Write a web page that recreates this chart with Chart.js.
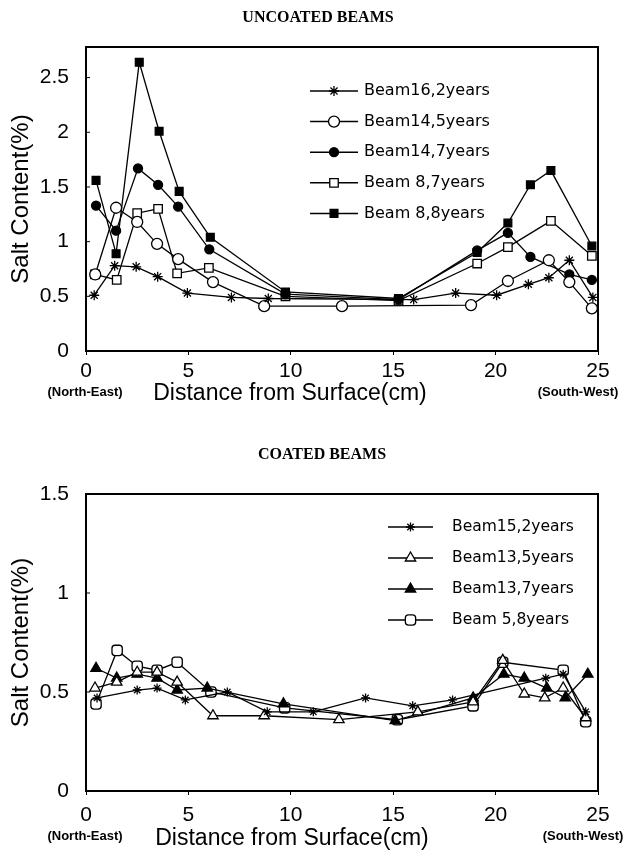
<!DOCTYPE html>
<html><head><meta charset="utf-8">
<script src="https://cdn.jsdelivr.net/npm/chart.js@4/dist/chart.umd.min.js"></script>
<style>
html,body{margin:0;padding:0;background:#fff;}
canvas{position:absolute;left:0;}
#c1{top:0;}
#c2{top:430px;}
</style></head><body>
<canvas id="c1" width="631" height="430"></canvas>
<canvas id="c2" width="631" height="427"></canvas>
<script>
// ---------- Tick labels ----------
const xTicks = [0, 5, 10, 15, 20, 25];
const yTicksTop = [0, 0.5, 1, 1.5, 2, 2.5];
const yTicksBottom = [0, 0.5, 1, 1.5];

// ---------- UNCOATED BEAMS ----------
const beam16_2_x = [0.4, 1.4, 2.45, 3.5, 4.95, 7.1, 8.9, 16.0, 18.05, 20.05, 21.6, 22.6, 23.6, 24.75];
const beam16_2_y = [0.51, 0.78, 0.77, 0.68, 0.53, 0.49, 0.48, 0.47, 0.53, 0.51, 0.61, 0.67, 0.83, 0.49];
const beam14_5_x = [0.45, 1.47, 2.5, 3.47, 4.5, 6.2, 8.7, 12.5, 18.8, 20.6, 22.6, 23.6, 24.7];
const beam14_5_y = [0.70, 1.31, 1.18, 0.98, 0.84, 0.63, 0.41, 0.41, 0.42, 0.64, 0.83, 0.63, 0.39];
const beam14_7_x = [0.49, 1.47, 2.54, 3.52, 4.5, 6.02, 9.74, 15.26, 19.1, 20.6, 21.7, 23.6, 24.7];
const beam14_7_y = [1.33, 1.10, 1.67, 1.52, 1.32, 0.93, 0.52, 0.47, 0.92, 1.08, 0.86, 0.70, 0.65];
const beam8_7_x = [0.44, 1.5, 2.5, 3.52, 4.45, 6.0, 9.74, 15.26, 19.1, 20.6, 22.7, 24.7];
const beam8_7_y = [0.70, 0.65, 1.26, 1.30, 0.71, 0.76, 0.50, 0.46, 0.80, 0.95, 1.19, 0.87];
const beam8_8_x = [0.49, 1.47, 2.6, 3.57, 4.55, 6.07, 9.74, 15.26, 19.1, 20.6, 21.7, 22.7, 24.7];
const beam8_8_y = [1.56, 0.89, 2.64, 2.01, 1.46, 1.04, 0.54, 0.48, 0.90, 1.17, 1.52, 1.65, 0.96];

// ---------- COATED BEAMS ----------
const beam15_2_x = [0.54, 2.5, 3.47, 4.85, 6.9, 8.85, 11.1, 13.65, 15.95, 17.9, 22.45, 23.3, 24.4];
const beam15_2_y = [0.47, 0.51, 0.52, 0.46, 0.50, 0.40, 0.40, 0.47, 0.43, 0.46, 0.57, 0.59, 0.40];
const beam13_5_x = [0.44, 1.5, 2.5, 3.47, 4.45, 6.2, 8.7, 12.35, 16.2, 18.9, 20.35, 21.4, 22.4, 23.3, 24.4];
const beam13_5_y = [0.52, 0.55, 0.60, 0.60, 0.55, 0.38, 0.38, 0.36, 0.40, 0.45, 0.66, 0.49, 0.47, 0.52, 0.37];
const beam13_7_x = [0.49, 1.5, 2.5, 3.47, 4.45, 5.92, 9.64, 15.1, 18.9, 20.4, 21.4, 22.5, 23.4, 24.5];
const beam13_7_y = [0.62, 0.57, 0.59, 0.57, 0.51, 0.52, 0.44, 0.355, 0.47, 0.59, 0.57, 0.52, 0.47, 0.59];
const beam5_8_x = [0.49, 1.52, 2.5, 3.47, 4.45, 6.1, 9.7, 15.2, 18.9, 20.35, 23.3, 24.4];
const beam5_8_y = [0.44, 0.71, 0.63, 0.61, 0.65, 0.50, 0.42, 0.36, 0.43, 0.65, 0.61, 0.35];

function pts(xs, ys) { return xs.map((x, i) => ({x: x, y: ys[i]})); }

function series(label, xs, ys, style, filled, radius) {
  return {
    label: label, data: pts(xs, ys),
    borderColor: '#000', borderWidth: 1.3, tension: 0, fill: false,
    pointStyle: style, pointRadius: radius, pointHoverRadius: radius,
    pointBackgroundColor: filled ? '#000' : '#fff',
    pointBorderColor: '#000', pointBorderWidth: 1.3
  };
}

const deco = {
  id: 'deco',
  afterDraw(chart, args, o) {
    const ctx = chart.ctx, a = chart.chartArea;
    ctx.save();
    ctx.strokeStyle = '#000';
    ctx.lineWidth = 2;
    ctx.strokeRect(a.left, a.top, a.right - a.left, a.bottom - a.top);
    const ys = chart.scales.y;
    ctx.lineWidth = 1;
    ys.ticks.forEach(t => {
      const py = ys.getPixelForValue(t.value);
      ctx.beginPath(); ctx.moveTo(a.left, py); ctx.lineTo(a.left + 4, py); ctx.stroke();
    });
    ctx.fillStyle = '#000';
    ctx.textAlign = 'center'; ctx.textBaseline = 'middle';
    ctx.font = 'bold 16px "Liberation Serif"';
    ctx.fillText(o.title, o.titleX, o.titleY);
    ctx.font = '23px "Liberation Sans"';
    ctx.fillText('Distance from Surface(cm)', o.xtX, o.xtY);
    ctx.font = 'bold 13px "Liberation Sans"';
    ctx.fillText('(North-East)', o.neX, o.noteY);
    ctx.fillText('(South-West)', o.swX, o.noteY);
    // legend
    chart.data.datasets.forEach((ds, i) => {
      const y = o.legY + i * o.legDy;
      ctx.strokeStyle = '#000'; ctx.lineWidth = 1.5;
      ctx.beginPath(); ctx.moveTo(o.legX1, y); ctx.lineTo(o.legX2, y); ctx.stroke();
      ctx.fillStyle = ds.pointBackgroundColor; ctx.lineWidth = ds.pointBorderWidth;
      const cx = (o.legX1 + o.legX2) / 2;
      if (Chart.helpers && Chart.helpers.drawPoint) {
        Chart.helpers.drawPoint(ctx, {pointStyle: ds.pointStyle, rotation: 0, borderWidth: ds.pointBorderWidth, radius: ds.pointRadius}, cx, y);
      } else {
        ctx.beginPath(); ctx.arc(cx, y, ds.pointRadius, 0, Math.PI * 2); ctx.fill(); ctx.stroke();
      }
      ctx.fillStyle = '#000';
      ctx.font = o.legFont;
      ctx.textAlign = 'left'; ctx.textBaseline = 'middle';
      ctx.fillText(ds.label, o.legTextX, y);
    });
    ctx.restore();
  }
};

function makeOptions(p) {
  const tickFont = {family: 'Liberation Sans', size: 21};
  const titleFont = {family: 'Liberation Sans', size: 24};
  return {
    responsive: false, animation: false,
    layout: {padding: {top: p.top, left: 0, right: 33, bottom: 0}},
    plugins: {legend: {display: false}, tooltip: {enabled: false}, deco: p.deco},
    scales: {
      x: {
        type: 'linear', min: 0, max: 25,
        afterBuildTicks(s) { s.ticks = xTicks.map(v => ({value: v})); },
        ticks: {color: '#000', font: tickFont, padding: p.xPad, maxRotation: 0, autoSkip: false,
                callback: v => String(v)},
        grid: {display: true, drawOnChartArea: false, drawTicks: true, tickLength: 4, color: '#000', lineWidth: 1},
        border: {display: true, color: '#000', width: 2},
        title: {display: false},
        afterFit(s) { s.height = p.xH; }
      },
      y: {
        type: 'linear', min: 0, max: p.yMax,
        afterBuildTicks(s) { s.ticks = p.yTicks.map(v => ({value: v})); },
        ticks: {color: '#000', font: tickFont, padding: 17, callback: v => String(v)},
        grid: {display: true, drawOnChartArea: false, drawTicks: false},
        border: {display: true, color: '#000', width: 2},
        title: {display: true, text: 'Salt Content(%)', color: '#000', font: titleFont, padding: {top: 7, bottom: 0}},
        afterFit(s) { s.width = 86; }
      }
    }
  };
}

new Chart(document.getElementById('c1'), {
  type: 'line',
  data: {datasets: [
    series('Beam16,2years', beam16_2_x, beam16_2_y, 'star', false, 5),
    series('Beam14,5years', beam14_5_x, beam14_5_y, 'circle', false, 5.5),
    series('Beam14,7years', beam14_7_x, beam14_7_y, 'circle', true, 4.5),
    series('Beam 8,7years', beam8_7_x, beam8_7_y, 'rect', false, 6),
    series('Beam 8,8years', beam8_8_x, beam8_8_y, 'rect', true, 5.5)
  ]},
  options: makeOptions({
    top: 47, xH: 79, xPad: 4, yMax: 2.78, yTicks: yTicksTop,
    deco: {title: 'UNCOATED BEAMS', titleX: 318, titleY: 18, xtX: 290, xtY: 394,
           neX: 85, swX: 578, noteY: 392,
           legY: 91, legDy: 30.6, legX1: 310, legX2: 358, legTextX: 364, legFont: '16px "DejaVu Sans"'}
  }),
  plugins: [deco]
});

new Chart(document.getElementById('c2'), {
  type: 'line',
  data: {datasets: [
    series('Beam15,2years', beam15_2_x, beam15_2_y, 'star', false, 4.5),
    series('Beam13,5years', beam13_5_x, beam13_5_y, 'triangle', false, 6),
    series('Beam13,7years', beam13_7_x, beam13_7_y, 'triangle', true, 6),
    series('Beam 5,8years', beam5_8_x, beam5_8_y, 'rectRounded', false, 6)
  ]},
  options: makeOptions({
    top: 64, xH: 66, xPad: 8, yMax: 1.5, yTicks: yTicksBottom,
    deco: {title: 'COATED BEAMS', titleX: 322, titleY: 25, xtX: 292, xtY: 409,
           neX: 85, swX: 583, noteY: 406,
           legY: 97, legDy: 31, legX1: 388, legX2: 433, legTextX: 452, legFont: '15.5px "DejaVu Sans"'}
  }),
  plugins: [deco]
});
</script>
</body></html>
